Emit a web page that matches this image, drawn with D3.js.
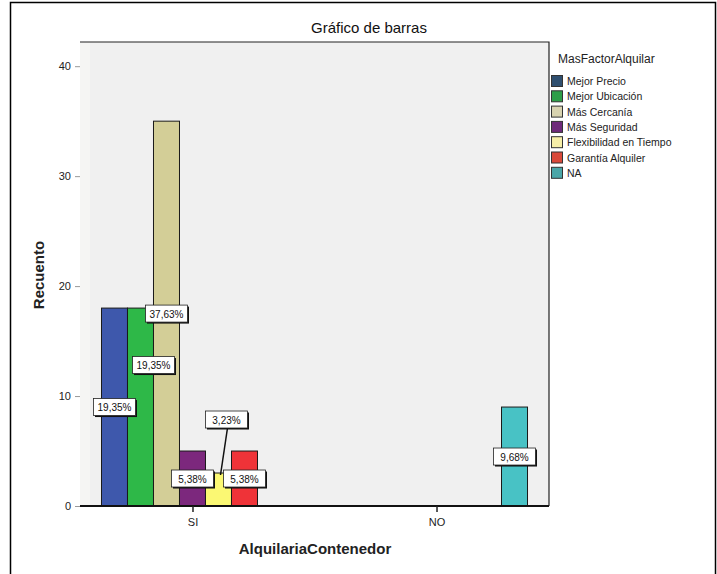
<!DOCTYPE html>
<html>
<head>
<meta charset="utf-8">
<script src="https://cdn.jsdelivr.net/npm/d3@7"></script>
<style>
  html, body { margin: 0; padding: 0; background: #fff; }
  svg { display: block; font-family: "Liberation Sans", Arial, sans-serif; }
</style>
</head>
<body>
<svg id="chart" width="717" height="574"></svg>
<script>
// ---- data ----
const categories = ["SI", "NO"];
const series = ["Mejor Precio", "Mejor Ubicación", "Más Cercanía", "Más Seguridad",
                "Flexibilidad en Tiempo", "Garantía Alquiler", "NA"];
const valuesSI = [18, 18, 35, 5, 3, 5, 0];
const valuesNO = [0, 0, 0, 0, 0, 0, 9];
const yTicks = [0, 10, 20, 30, 40];
const colors = ["#3E58AC", "#2EB848", "#D3CE97", "#7C287D", "#FBF873", "#EF3338", "#48C2C5"];
const legendColors = ["#2F4F6F", "#2E9E48", "#D8D3B0", "#6E2A7A", "#F6EEA8", "#D9493A", "#4AA6A8"];
const title = "Gráfico de barras";
const xTitle = "AlquilariaContenedor";
const yTitle = "Recuento";
const legendTitle = "MasFactorAlquilar";

// ---- layout ----
const svg = d3.select("#chart");
const plot = { left: 80, right: 549, top: 42, bottom: 506 };

const total = d3.sum(valuesSI) + d3.sum(valuesNO);
const rows = [];
categories.forEach((c, ci) => {
  const vals = ci === 0 ? valuesSI : valuesNO;
  series.forEach((s, si) => {
    rows.push({ cat: c, series: s, si, value: vals[si] });
  });
});

const x = d3.scalePoint().domain(categories).range([plot.left, plot.right]).padding(0.461);
const xs = d3.scaleBand().domain(series).range([-91, 91]).padding(0);
const y = d3.scaleLinear().domain([0, 42.2]).range([plot.bottom, plot.top]);

// outer frame
svg.append("rect").attr("x", 10.5).attr("y", 2.5).attr("width", 705).attr("height", 580)
  .attr("fill", "none").attr("stroke", "#000").attr("stroke-width", 1.5);

// plot background
svg.append("rect").attr("x", plot.left).attr("y", plot.top)
  .attr("width", plot.right - plot.left).attr("height", plot.bottom - plot.top)
  .attr("fill", "#F0F0F0");
svg.append("rect").attr("x", plot.left).attr("y", plot.top)
  .attr("width", 10).attr("height", plot.bottom - plot.top)
  .attr("fill", "#F5F5F3");

// top & right border
svg.append("path")
  .attr("d", `M${plot.left},${plot.top}H${plot.right}V${plot.bottom}`)
  .attr("fill", "none").attr("stroke", "#222").attr("stroke-width", 1.2);

// title
svg.append("text").attr("x", 369).attr("y", 33).attr("text-anchor", "middle")
  .attr("font-size", 15).attr("fill", "#111").text(title);

// y axis
const yAxis = d3.axisLeft(y).tickValues(yTicks).tickSize(5).tickPadding(4);
const gy = svg.append("g").attr("transform", `translate(${plot.left},0)`).call(yAxis);
gy.select(".domain").remove();
gy.selectAll(".tick line").attr("stroke", "#999");
gy.selectAll(".tick text").attr("font-size", 11).attr("fill", "#222")
  .attr("font-family", "Liberation Sans, Arial, sans-serif");

// bars
const bars = svg.append("g");
bars.selectAll("rect").data(rows.filter(d => d.value > 0)).join("rect")
  .attr("x", d => x(d.cat) + xs(d.series))
  .attr("y", d => y(d.value))
  .attr("width", xs.bandwidth())
  .attr("height", d => y(0) - y(d.value))
  .attr("fill", d => colors[d.si])
  .attr("stroke", "#1a1a1a").attr("stroke-width", 1);

// x axis
const xAxis = d3.axisBottom(x).tickSize(6).tickPadding(6);
const gx = svg.append("g").attr("transform", `translate(0,${plot.bottom})`).call(xAxis);
gx.select(".domain").attr("d", `M${plot.left},0H${plot.right}`).attr("stroke", "#111").attr("stroke-width", 2);
gx.selectAll(".tick line").attr("stroke", "#222").attr("stroke-width", 1.5);
gx.selectAll(".tick text").attr("font-size", 11).attr("fill", "#222")
  .attr("font-family", "Liberation Sans, Arial, sans-serif");

// axis titles
svg.append("text").attr("x", 315).attr("y", 554).attr("text-anchor", "middle")
  .attr("font-size", 15).attr("font-weight", "bold").attr("fill", "#222").text(xTitle);
svg.append("text").attr("transform", "translate(44,275) rotate(-90)").attr("text-anchor", "middle")
  .attr("font-size", 15).attr("font-weight", "bold").attr("fill", "#222").text(yTitle);

// value labels (percent of total), with nudges to avoid overlap
const nudge = { "SI|Mejor Ubicación": [13, -42], "SI|Flexibilidad en Tiempo": [8, -70] };
const fmt = v => (v / total * 100).toFixed(2).replace(".", ",") + "%";
const labels = svg.append("g");
rows.filter(d => d.value > 0).forEach(d => {
  const bx = x(d.cat) + xs(d.series) + xs.bandwidth() / 2;
  const by = y(d.value / 2);
  const n = nudge[d.cat + "|" + d.series] || [0, 0];
  const cx = bx + n[0], cy = by + n[1];
  const w = 42, h = 17;
  if (n[1] !== 0 && d.series === "Flexibilidad en Tiempo") {
    labels.append("line").attr("x1", cx + 1).attr("y1", cy + h / 2)
      .attr("x2", bx + 2).attr("y2", y(d.value) + 2)
      .attr("stroke", "#111").attr("stroke-width", 1.5);
  }
  labels.append("rect").attr("x", cx - w / 2 + 1.5).attr("y", cy - h / 2 + 1.5)
    .attr("width", w).attr("height", h).attr("fill", "#111");
  labels.append("rect").attr("x", cx - w / 2).attr("y", cy - h / 2)
    .attr("width", w).attr("height", h).attr("fill", "#fff")
    .attr("stroke", "#222").attr("stroke-width", 0.8);
  labels.append("text").attr("x", cx).attr("y", cy + 4).attr("text-anchor", "middle")
    .attr("font-size", 10).attr("fill", "#111").text(fmt(d.value));
});

// legend
const lg = svg.append("g").attr("transform", "translate(551,0)");
lg.append("text").attr("x", 7).attr("y", 63).attr("font-size", 12).attr("fill", "#222").text(legendTitle);
series.forEach((s, i) => {
  const yy = 75 + i * 15.3;
  lg.append("rect").attr("x", 0.5).attr("y", yy + 0.5).attr("width", 11).attr("height", 11)
    .attr("fill", legendColors[i]).attr("stroke", "#333").attr("stroke-width", 1);
  lg.append("text").attr("x", 16).attr("y", yy + 10).attr("font-size", 10.5).attr("fill", "#222").text(s);
});
</script>
</body>
</html>
